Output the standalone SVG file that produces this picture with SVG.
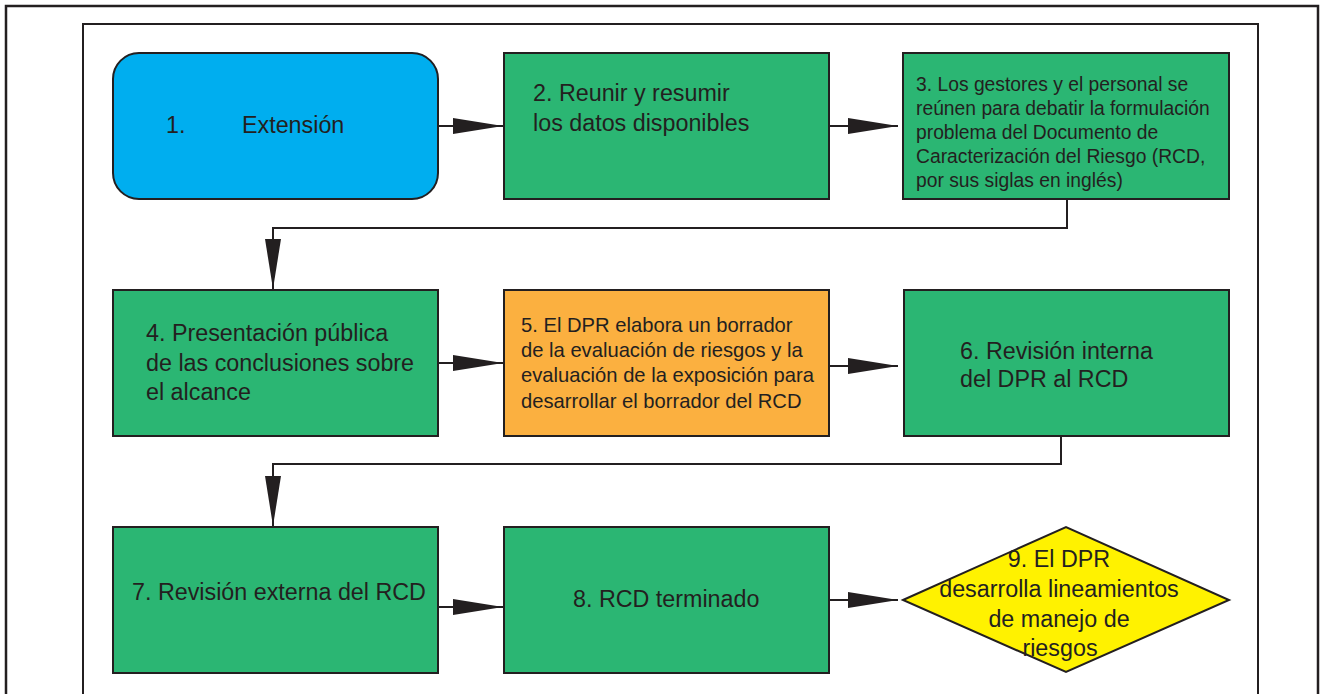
<svg xmlns="http://www.w3.org/2000/svg" width="1324" height="694" viewBox="0 0 1324 694">
<defs>
<style>
.frame{fill:none;stroke:#231F20}
.box{stroke:#231F20;stroke-width:2}
.green{fill:#2BB673}
.blue{fill:#00AEEF}
.orange{fill:#FBB040}
.yellow{fill:#FFF200}
.t{font-family:"Liberation Sans",Arial,sans-serif;fill:#231F20}
.big{font-size:23.3px}
.mid{font-size:20.2px}
.sm{font-size:19.3px}
.conn{fill:none;stroke:#231F20;stroke-width:2}
</style>
<marker id="ah" markerUnits="userSpaceOnUse" viewBox="0 0 50 16" refX="50" refY="8" markerWidth="50" markerHeight="16" orient="auto">
<path d="M0,0 L50,8 L0,16 Z" fill="#231F20"/>
</marker>
</defs>
<rect width="1324" height="694" fill="#ffffff"/>
<rect class="frame" x="6" y="6" width="1312" height="720" stroke-width="2.5"/>
<rect class="frame" x="83" y="24" width="1175" height="720" stroke-width="2"/>

<g id="connectors">
<path class="conn" d="M438,126 H503" marker-end="url(#ah)"/>
<path class="conn" d="M829,126 H898" marker-end="url(#ah)"/>
<path class="conn" d="M1067,199 V228 H273 V289" marker-end="url(#ah)"/>
<path class="conn" d="M438,363 H503" marker-end="url(#ah)"/>
<path class="conn" d="M829,366 H898" marker-end="url(#ah)"/>
<path class="conn" d="M1061,436 V464 H273 V526" marker-end="url(#ah)"/>
<path class="conn" d="M438,607 H503" marker-end="url(#ah)"/>
<path class="conn" d="M829,600 H898" marker-end="url(#ah)"/>
</g>

<g id="node1">
<rect class="box blue" x="113" y="53" width="325" height="146" rx="26" ry="26"/>
<text class="t big" x="166" y="133">1.</text>
<text class="t big" x="242" y="133">Extensión</text>
</g>

<g id="node2">
<rect class="box green" x="504" y="53" width="325" height="146"/>
<text class="t big" x="533" y="101">2. Reunir y resumir</text>
<text class="t big" x="533" y="131">los datos disponibles</text>
</g>

<g id="node3">
<rect class="box green" x="903" y="53" width="326" height="146"/>
<text class="t sm" x="916" y="91">3. Los gestores y el personal se</text>
<text class="t sm" x="916" y="115">reúnen para debatir la formulación</text>
<text class="t sm" x="916" y="139">problema del Documento de</text>
<text class="t sm" x="916" y="163">Caracterización del Riesgo (RCD,</text>
<text class="t sm" x="916" y="187">por sus siglas en inglés)</text>
</g>

<g id="node4">
<rect class="box green" x="113" y="290" width="325" height="146"/>
<text class="t big" x="146" y="341">4. Presentación pública</text>
<text class="t big" x="146" y="371">de las conclusiones sobre</text>
<text class="t big" x="146" y="400">el alcance</text>
</g>

<g id="node5">
<rect class="box orange" x="504" y="290" width="325" height="146"/>
<text class="t mid" x="521" y="332">5. El DPR elabora un borrador</text>
<text class="t mid" x="521" y="357">de la evaluación de riesgos y la</text>
<text class="t mid" x="521" y="382">evaluación de la exposición para</text>
<text class="t mid" x="521" y="408">desarrollar el borrador del RCD</text>
</g>

<g id="node6">
<rect class="box green" x="904" y="290" width="325" height="146"/>
<text class="t big" x="960" y="359">6. Revisión interna</text>
<text class="t big" x="960" y="387">del DPR al RCD</text>
</g>

<g id="node7">
<rect class="box green" x="113" y="527" width="325" height="146"/>
<text class="t big" x="132" y="600">7. Revisión externa del RCD</text>
</g>

<g id="node8">
<rect class="box green" x="504" y="527" width="325" height="146"/>
<text class="t big" x="573" y="607">8. RCD terminado</text>
</g>

<g id="node9">
<polygon class="box yellow" points="903,600 1066,527 1229,600 1066,672"/>
<g class="t big" text-anchor="middle">
<text x="1059" y="567">9. El DPR</text>
<text x="1059" y="597">desarrolla lineamientos</text>
<text x="1059" y="627">de manejo de</text>
<text x="1060" y="656">riesgos</text>
</g>
</g>
</svg>
